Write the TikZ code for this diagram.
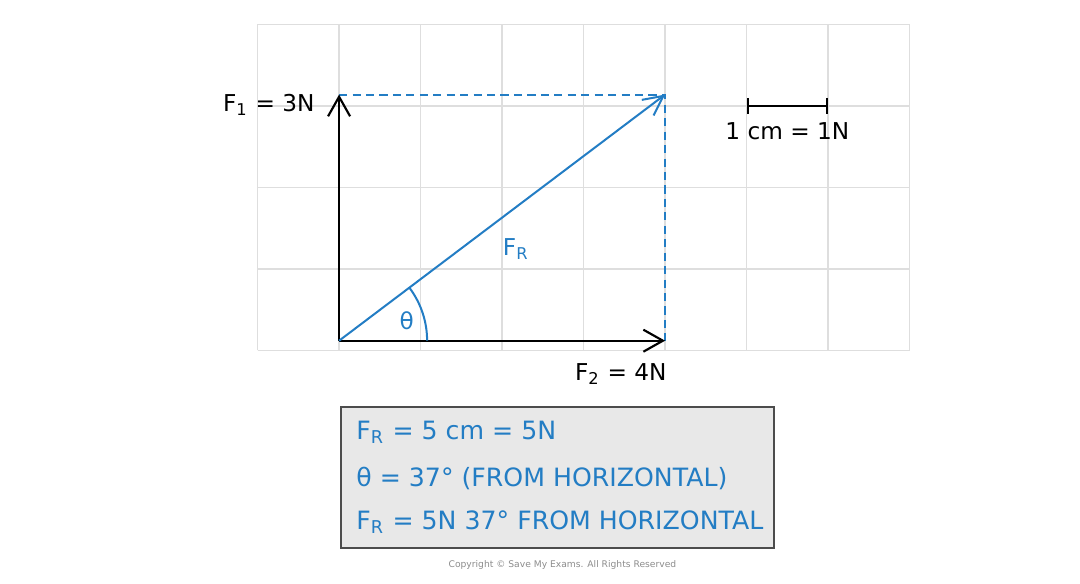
\documentclass[tikz,border=0pt]{standalone}
\usepackage{fontspec}
\setmainfont{DejaVu Sans}
\usetikzlibrary{arrows.meta}
\definecolor{vecblue}{RGB}{35,125,196}
\definecolor{gridgrey}{RGB}{222,222,222}
\definecolor{boxgrey}{RGB}{232,232,232}

\begin{document}
\begin{tikzpicture}[
	force/.style={line width=0.75pt, -{Straight Barb[length=2.4mm,width=2.7mm,line width=0.75pt]}},
	result/.style={vecblue, line width=0.7pt, -{Straight Barb[length=2.4mm,width=2.4mm,line width=0.7pt]}},
	guide/.style={vecblue, line width=0.7pt, dash pattern=on 1mm off 0.65mm},
	lbl/.style={font=\fontsize{8.1}{10}\selectfont, inner sep=1pt},
	sumtext/.style={font=\fontsize{8.8}{10}\selectfont, inner sep=1pt, vecblue, anchor=west}
	]
	\useasboundingbox (-3.16,-2.853) rectangle (10.09,4.30);
	\draw[gridgrey, line width=0.6pt] (0,0) grid (8,4);

	\coordinate (O) at (1,0.12);
	\coordinate (F1) at (1,3.14);
	\coordinate (F2) at (5,0.12);
	\coordinate (R) at (5,3.14);

	% components and resultant
	\draw[guide] (F1) -- (R) -- (F2);
	\draw[force] (O) -- (F1);
	\draw[force] (O) -- (F2);
	\draw[result] (O) -- (R);
	\draw[vecblue, line width=0.7pt] ([shift={(1.08,0)}]O) arc (0:37:1.08);

	\node[lbl, anchor=east] (f1lbl) at (0.74,3.01) {F\textsubscript{1} = 3N};
	\node[lbl, anchor=east] (f2lbl) at (5.06,-0.29) {F\textsubscript{2} = 4N};
	\node[lbl, vecblue] (frlbl) at (3.17,1.25) {F\textsubscript{R}};
	\node[lbl, vecblue] (theta) at (1.83,0.36) {θ};

	% scale
	\coordinate (s1) at (6,3);
	\coordinate (s2) at (7,3);
	\draw[line width=0.75pt, {Bar[width=2mm]}-{Bar[width=2mm]}] (s1) -- (s2);
	\node[lbl] (scale) at (6.5,2.69) {1 cm = 1N};

	% summary
	\draw[fill=boxgrey, draw=black!70, line width=0.6pt] (1.02,-0.693) rectangle (6.34,-2.423);
	\node[sumtext] (res1) at (1.17,-1.0) {F\textsubscript{R} = 5 cm = 5N};
	\node[sumtext] (res2) at (1.17,-1.565) {θ = 37° (FROM HORIZONTAL)};
	\node[sumtext] (res3) at (1.17,-2.10) {F\textsubscript{R} = 5N 37° FROM HORIZONTAL};

	\node[font=\fontsize{3.2}{4}\selectfont, text=black!45] (copy) at (3.74,-2.63) {Copyright © Save My Exams. All Rights Reserved};
\end{tikzpicture}
\end{document}
